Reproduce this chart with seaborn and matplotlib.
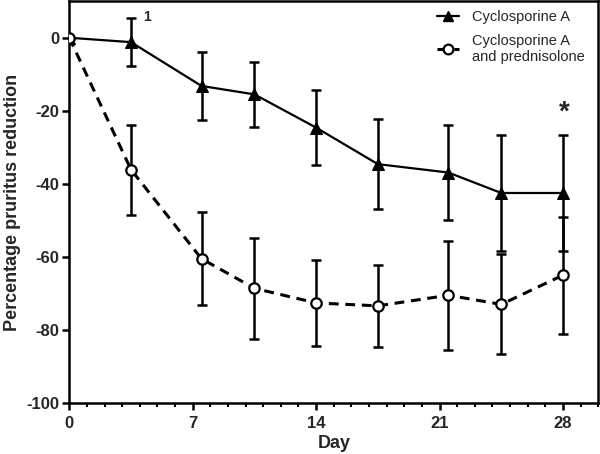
import matplotlib
matplotlib.use("Agg")
import matplotlib.pyplot as plt
import seaborn as sns
import pandas as pd
from matplotlib.lines import Line2D

# Data
days_a = [0, 3.5, 7.5, 10.5, 14, 17.5, 21.5, 24.5, 28]
mean_a = [0, -1.2, -13.2, -15.5, -24.6, -34.6, -36.9, -42.5, -42.5]
err_a = [0, 6.6, 9.2, 8.8, 10.3, 12.4, 13.1, 16.0, 16.0]

days_b = [0, 3.5, 7.5, 10.5, 14, 17.5, 21.5, 24.5, 28]
mean_b = [0, -36.1, -60.5, -68.6, -72.6, -73.4, -70.5, -73.0, -65.0]
err_b = [0, 12.3, 12.7, 13.9, 11.7, 11.3, 14.9, 13.7, 16.0]

label_a = "Cyclosporine A"
label_b = "Cyclosporine A\nand prednisolone"
x_ticks = [0, 7, 14, 21, 28]
y_ticks = [0, -20, -40, -60, -80, -100]

sns.set_theme(style="ticks")
plt.rcParams['font.family'] = ['Liberation Sans', 'DejaVu Sans']

fig = plt.figure(figsize=(6, 4.54), dpi=100)
ax = fig.add_axes([0.1155, 0.1123, 0.8815, 0.885])

df_a = pd.DataFrame({"day": days_a, "val": mean_a})
df_b = pd.DataFrame({"day": days_b, "val": mean_b})

ax.errorbar(days_a, mean_a, yerr=err_a, fmt='none', ecolor='black',
            elinewidth=1.8, capsize=3.5, capthick=1.8, zorder=2)
ax.errorbar(days_b, mean_b, yerr=err_b, fmt='none', ecolor='black',
            elinewidth=1.8, capsize=3.5, capthick=1.8, zorder=2)

sns.lineplot(data=df_a, x="day", y="val", ax=ax, color='black', lw=1.6,
             marker='^', markersize=8, markeredgecolor='black',
             markerfacecolor='black', zorder=3)
sns.lineplot(data=df_b, x="day", y="val", ax=ax, color='black', lw=2.2,
             marker='o', markersize=7.5, markeredgecolor='black',
             markerfacecolor='white', markeredgewidth=1.6, zorder=3)
ax.lines[-1].set_dashes([3.2, 2.2])

ax.set_xlim(0, 30)
ax.set_ylim(-100, 10)
ax.set_xticks(x_ticks)
ax.set_xticks(range(0, 31), minor=True)
ax.set_yticks(y_ticks)
ax.set_xticklabels([str(t) for t in x_ticks], fontsize=12, fontweight='bold')
ax.set_yticklabels([str(t) for t in y_ticks], fontsize=12, fontweight='bold')
ax.tick_params(axis='both', which='major', direction='out', length=5, width=1.8, color='black', pad=2)
ax.tick_params(axis='x', which='major', pad=4)
ax.tick_params(axis='x', which='minor', direction='out', length=3, width=1.5, color='black')
for s in ax.spines.values():
    s.set_linewidth(1.8)
    s.set_color('black')
    s.set_visible(True)

ax.set_xlabel("Day", fontsize=13, fontweight='bold', labelpad=3)
ax.set_ylabel("Percentage pruritus reduction", fontsize=13, fontweight='bold', labelpad=4)

ax.text(4.4, 5.8, "1", fontsize=10, fontweight='bold', ha='center', va='center')
ax.text(28.1, -20.5, "*", fontsize=20, fontweight='bold', ha='center', va='center')

h_a = Line2D([], [], color='black', lw=1.6, marker='^', markersize=7, markerfacecolor='black')
h_b = Line2D([], [], color='black', lw=2.2, marker='o', markersize=7, markerfacecolor='white',
             markeredgewidth=1.6, dashes=[3, 2.5])
ax.legend([h_a, h_b], [label_a, label_b], loc='upper right', frameon=False, fontsize=10.5,
          handlelength=1.5, handletextpad=0.9, labelspacing=0.65,
          bbox_to_anchor=(1.0, 1.01))

fig.savefig("out.png", dpi=100)
